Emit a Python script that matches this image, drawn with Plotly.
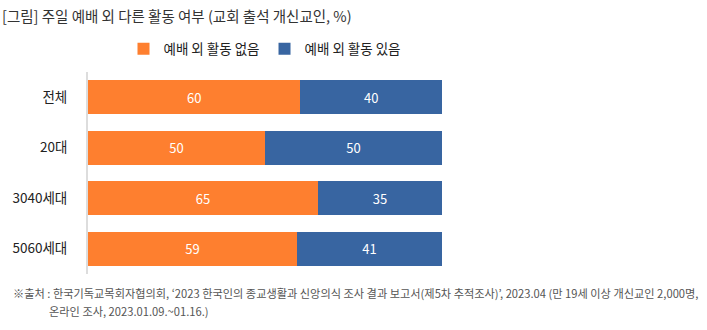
import plotly.graph_objects as go

# Survey groups and response shares (%)
groups = ["전체", "20대", "3040세대", "5060세대"]
no_other_activity = [60, 50, 65, 59]
has_other_activity = [40, 50, 35, 41]
series_names = ["예배 외 활동 없음", "예배 외 활동 있음"]

FONT = "Noto Sans CJK KR"
ORANGE = "#FE7F2F"
BLUE = "#3865A1"

fig = go.Figure()
for name, vals, color in [
    (series_names[0], no_other_activity, ORANGE),
    (series_names[1], has_other_activity, BLUE),
]:
    fig.add_trace(go.Bar(
        y=groups, x=vals, name=name, orientation="h",
        marker=dict(color=color, line=dict(width=0)),
        text=[str(v) for v in vals], textposition="inside",
        insidetextanchor="middle",
        textfont=dict(family=FONT, size=13, color="white"),
        hoverinfo="skip",
    ))

fig.update_layout(
    width=707, height=330,
    barmode="stack", bargap=0.32,
    plot_bgcolor="white", paper_bgcolor="white",
    margin=dict(l=88, r=265, t=72, b=56),
    font=dict(family=FONT, size=13, color="#222"),
    xaxis=dict(range=[0, 100], visible=False, fixedrange=True, automargin=False),
    yaxis=dict(autorange="reversed", showline=True, linecolor="#dddddd",
               linewidth=2, ticks="", ticklabelstandoff=16, automargin=False,
               tickfont=dict(family=FONT, size=13.5, color="#222"),
               showgrid=False, fixedrange=True),
    showlegend=True,
    legend=dict(orientation="h", x=0.5, xanchor="center",
                y=1 + (72 - 49) / 202, yanchor="middle",
                font=dict(family=FONT, size=13.5, color="#222"),
                itemwidth=30, traceorder="normal"),
    annotations=[
        dict(text="[그림] 주일 예배 외 다른 활동 여부 (교회 출석 개신교인, %)",
             xref="paper", yref="paper", x=-88/354, y=1 + (72 - 16) / 202,
             xanchor="left", yanchor="middle", showarrow=False,
             font=dict(family=FONT, size=14.5, color="#333")),
        dict(text="※출처 : 한국기독교목회자협의회, ‘2023 한국인의 종교생활과 신앙의식 조사 결과 보고서(제5차 추적조사)’, 2023.04 (만 19세 이상 개신교인 2,000명,",
             xref="paper", yref="paper", x=-77/354, y=-(293 - 274) / 202,
             xanchor="left", yanchor="middle", showarrow=False,
             font=dict(family=FONT, size=11.2, color="#555")),
        dict(text="온라인 조사, 2023.01.09.~01.16.)",
             xref="paper", yref="paper", x=-41/354, y=-(311 - 274) / 202,
             xanchor="left", yanchor="middle", showarrow=False,
             font=dict(family=FONT, size=11.2, color="#555")),
    ],
)

fig.write_html("out.html")
